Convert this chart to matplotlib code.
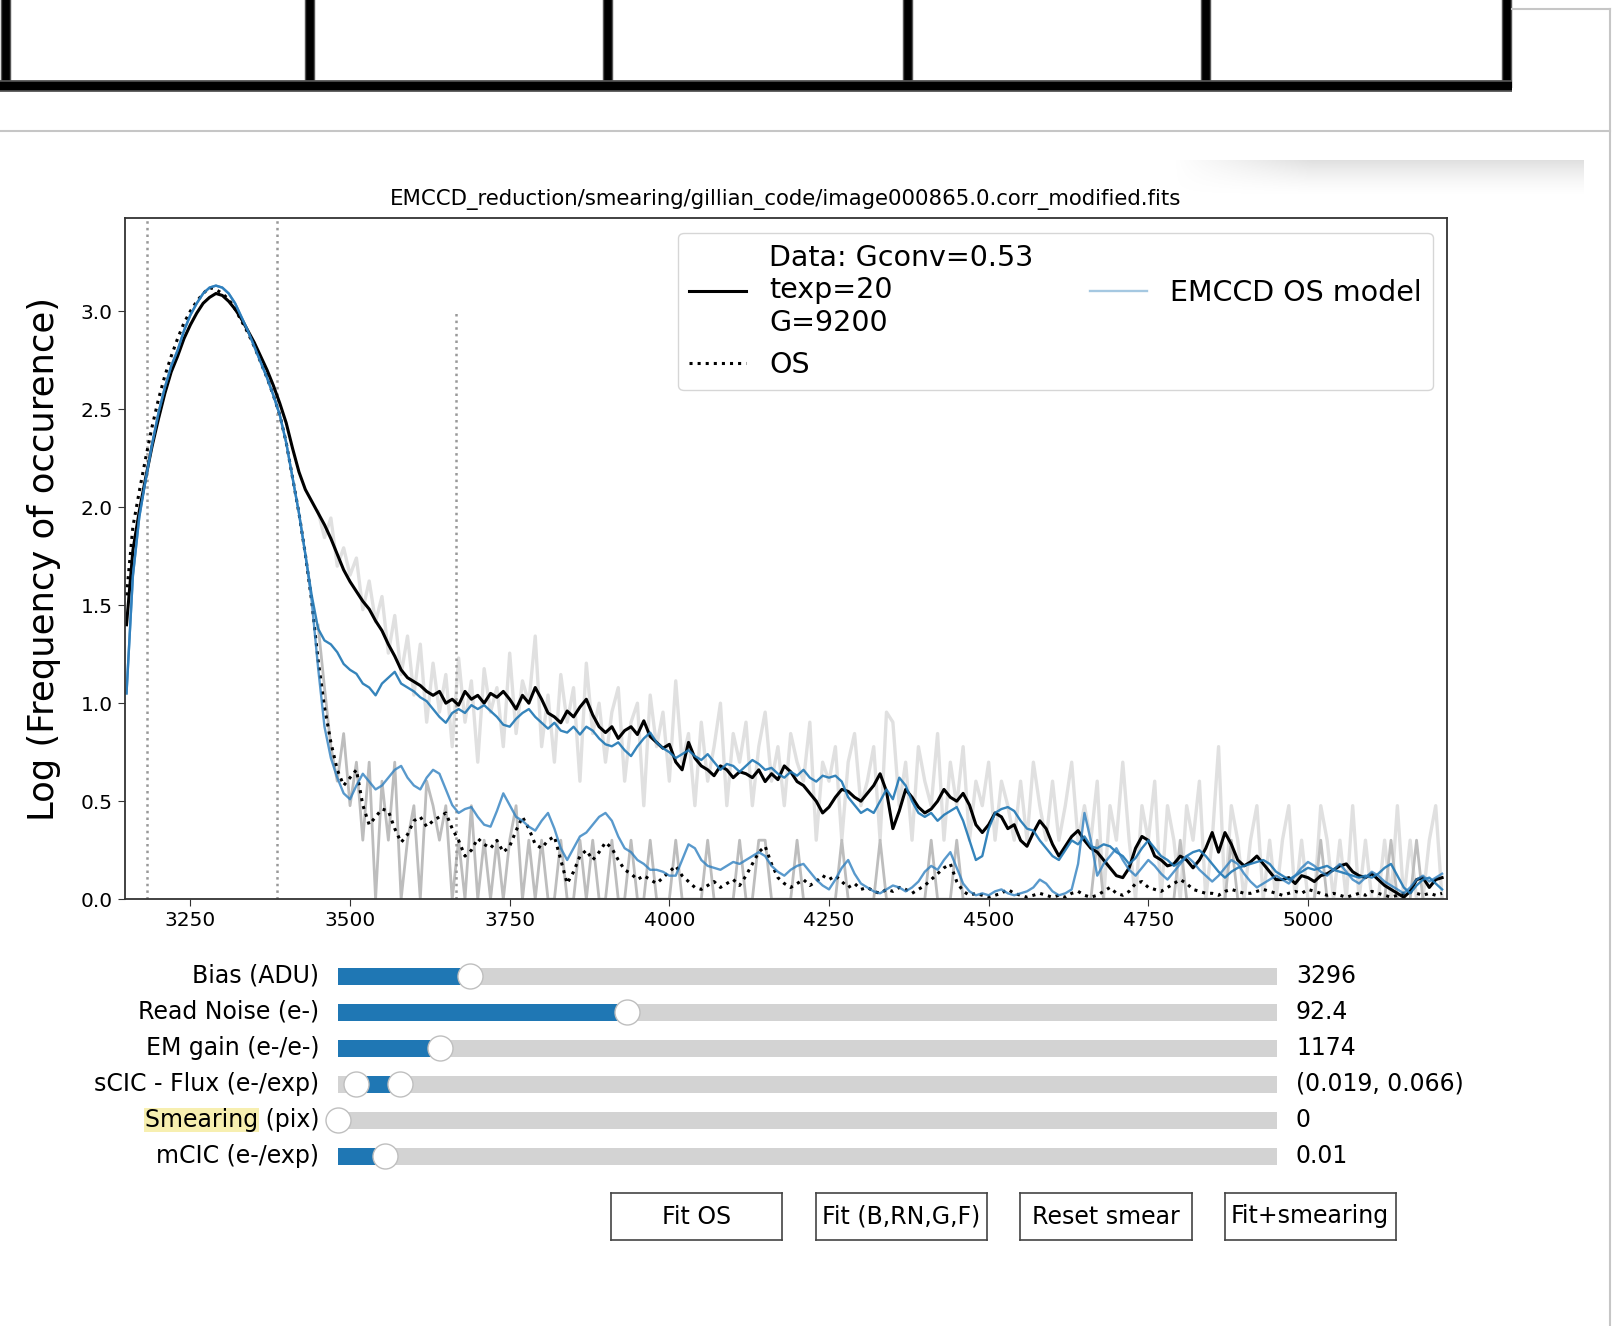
import numpy as np
import matplotlib
matplotlib.use('Agg')
import matplotlib.pyplot as plt
from matplotlib.widgets import Slider, RangeSlider, Button
from matplotlib.lines import Line2D
from matplotlib.patches import Rectangle

W, H = 1615, 1326

# smoothed curves, one value every 10 ADU starting at 3150 ADU
x0_smooth = 3150
step = 10

data_smooth = [
    1.40, 1.78, 1.98, 2.15, 2.31, 2.45, 2.58, 2.69, 2.77, 2.86,
    2.93, 2.99, 3.04, 3.07, 3.09, 3.08, 3.05, 3.01, 2.96, 2.90,
    2.84, 2.77, 2.70, 2.62, 2.53, 2.43, 2.30, 2.18, 2.09, 2.03,
    1.97, 1.91, 1.84, 1.76, 1.68, 1.62, 1.57, 1.52, 1.48, 1.42,
    1.37, 1.30, 1.24, 1.17, 1.13, 1.11, 1.09, 1.06, 1.04, 1.06,
    1.00, 1.02, 0.99, 1.06, 1.02, 1.04, 1.00, 1.05, 1.03, 1.06,
    1.02, 0.97, 1.04, 1.00, 1.08, 1.02, 0.95, 0.93, 0.90, 0.96,
    0.93, 0.98, 1.02, 0.94, 0.88, 0.85, 0.88, 0.82, 0.86, 0.88,
    0.84, 0.91, 0.83, 0.80, 0.77, 0.79, 0.70, 0.66, 0.80, 0.72,
    0.68, 0.66, 0.63, 0.68, 0.66, 0.62, 0.65, 0.64, 0.62, 0.66,
    0.60, 0.64, 0.61, 0.68, 0.65, 0.60, 0.58, 0.54, 0.50, 0.44,
    0.47, 0.52, 0.56, 0.55, 0.52, 0.50, 0.54, 0.58, 0.64, 0.55,
    0.36, 0.45, 0.56, 0.52, 0.47, 0.44, 0.46, 0.50, 0.56, 0.52,
    0.50, 0.54, 0.48, 0.38, 0.34, 0.38, 0.44, 0.42, 0.36, 0.38,
    0.30, 0.27, 0.34, 0.40, 0.36, 0.28, 0.22, 0.27, 0.32, 0.35,
    0.30, 0.26, 0.24, 0.20, 0.16, 0.12, 0.11, 0.16, 0.26, 0.32,
    0.30, 0.22, 0.20, 0.17, 0.18, 0.22, 0.20, 0.16, 0.20, 0.26,
    0.34, 0.24, 0.34, 0.28, 0.20, 0.17, 0.19, 0.22, 0.18, 0.14,
    0.10, 0.10, 0.11, 0.08, 0.12, 0.11, 0.09, 0.12, 0.13, 0.15,
    0.17, 0.18, 0.14, 0.12, 0.11, 0.13, 0.10, 0.07, 0.05, 0.03,
    0.01, 0.04, 0.10, 0.11, 0.06, 0.10, 0.11,
]

os_smooth = [
    1.55, 1.90, 2.08, 2.25, 2.41, 2.55, 2.67, 2.77, 2.86, 2.94,
    3.00, 3.05, 3.09, 3.12, 3.11, 3.09, 3.06, 3.01, 2.95, 2.89,
    2.82, 2.74, 2.66, 2.57, 2.47, 2.33, 2.15, 1.97, 1.76, 1.52,
    1.22, 0.98, 0.80, 0.66, 0.58, 0.62, 0.66, 0.48, 0.38, 0.42,
    0.46, 0.45, 0.36, 0.29, 0.33, 0.40, 0.42, 0.37, 0.40, 0.42,
    0.44, 0.36, 0.30, 0.22, 0.25, 0.31, 0.28, 0.26, 0.30, 0.24,
    0.27, 0.35, 0.42, 0.36, 0.28, 0.26, 0.30, 0.32, 0.20, 0.08,
    0.14, 0.22, 0.25, 0.20, 0.24, 0.29, 0.26, 0.20, 0.15, 0.13,
    0.10, 0.12, 0.10, 0.08, 0.11, 0.14, 0.17, 0.12, 0.09, 0.06,
    0.05, 0.07, 0.09, 0.06, 0.08, 0.10, 0.07, 0.12, 0.18, 0.24,
    0.27, 0.18, 0.11, 0.08, 0.06, 0.08, 0.10, 0.07, 0.09, 0.12,
    0.10, 0.12, 0.09, 0.06, 0.08, 0.05, 0.06, 0.04, 0.03, 0.05,
    0.04, 0.06, 0.05, 0.03, 0.05, 0.07, 0.10, 0.13, 0.16, 0.18,
    0.09, 0.04, 0.02, 0.03, 0.02, 0.01, 0.02, 0.03, 0.05, 0.03,
    0.02, 0.01, 0.02, 0.03, 0.02, 0.01, 0.02, 0.01, 0.03, 0.04,
    0.02, 0.01, 0.02, 0.04, 0.06, 0.03, 0.02, 0.04, 0.08, 0.09,
    0.06, 0.05, 0.04, 0.06, 0.08, 0.10, 0.08, 0.05, 0.04, 0.03,
    0.03, 0.02, 0.04, 0.05, 0.04, 0.03, 0.03, 0.04, 0.05, 0.04,
    0.03, 0.02, 0.03, 0.04, 0.03, 0.05, 0.04, 0.03, 0.02, 0.03,
    0.02, 0.01, 0.02, 0.03, 0.02, 0.04, 0.03, 0.02, 0.01, 0.02,
    0.03, 0.04, 0.03, 0.02, 0.03, 0.02, 0.03,
]

model_data = [
    1.05, 1.65, 1.95, 2.14, 2.32, 2.48, 2.61, 2.72, 2.80, 2.90,
    2.98, 3.04, 3.09, 3.12, 3.13, 3.12, 3.09, 3.04, 2.97, 2.90,
    2.82, 2.74, 2.66, 2.57, 2.47, 2.33, 2.15, 1.97, 1.76, 1.55,
    1.38, 1.32, 1.30, 1.26, 1.20, 1.17, 1.15, 1.10, 1.08, 1.04,
    1.10, 1.13, 1.16, 1.10, 1.08, 1.06, 1.03, 1.01, 0.97, 0.93,
    0.90, 0.95, 0.97, 0.95, 0.99, 0.97, 0.99, 0.96, 0.93, 0.89,
    0.88, 0.92, 0.95, 0.97, 0.93, 0.90, 0.87, 0.90, 0.86, 0.85,
    0.88, 0.84, 0.88, 0.86, 0.82, 0.79, 0.78, 0.80, 0.76, 0.73,
    0.78, 0.82, 0.85, 0.80, 0.77, 0.75, 0.72, 0.74, 0.76, 0.73,
    0.71, 0.74, 0.70, 0.66, 0.69, 0.68, 0.65, 0.68, 0.71, 0.69,
    0.66, 0.67, 0.64, 0.62, 0.65, 0.63, 0.66, 0.62, 0.60, 0.63,
    0.62, 0.63, 0.60, 0.52, 0.48, 0.44, 0.46, 0.44, 0.50, 0.56,
    0.51, 0.62, 0.58, 0.50, 0.44, 0.42, 0.44, 0.40, 0.43, 0.45,
    0.47, 0.40, 0.30, 0.20, 0.22, 0.36, 0.44, 0.46, 0.47, 0.45,
    0.40, 0.36, 0.35, 0.30, 0.26, 0.22, 0.20, 0.25, 0.30, 0.28,
    0.32, 0.27, 0.26, 0.28, 0.27, 0.24, 0.22, 0.18, 0.21, 0.26,
    0.30, 0.26, 0.22, 0.20, 0.17, 0.19, 0.22, 0.24, 0.25, 0.22,
    0.18, 0.14, 0.11, 0.14, 0.16, 0.17, 0.18, 0.19, 0.20, 0.18,
    0.14, 0.12, 0.10, 0.12, 0.14, 0.16, 0.15, 0.16, 0.17, 0.15,
    0.14, 0.13, 0.12, 0.11, 0.12, 0.11, 0.13, 0.16, 0.18, 0.12,
    0.06, 0.03, 0.07, 0.10, 0.11, 0.08, 0.05,
]

model_os = [
    1.05, 1.65, 1.95, 2.14, 2.32, 2.48, 2.61, 2.72, 2.80, 2.90,
    2.98, 3.04, 3.09, 3.12, 3.13, 3.12, 3.09, 3.04, 2.97, 2.90,
    2.82, 2.74, 2.66, 2.57, 2.47, 2.33, 2.15, 1.97, 1.76, 1.52,
    1.18, 0.88, 0.72, 0.62, 0.54, 0.51, 0.58, 0.64, 0.60, 0.56,
    0.58, 0.62, 0.66, 0.68, 0.62, 0.58, 0.56, 0.62, 0.66, 0.64,
    0.56, 0.48, 0.44, 0.46, 0.47, 0.42, 0.38, 0.37, 0.45, 0.54,
    0.48, 0.42, 0.40, 0.37, 0.35, 0.40, 0.44, 0.36, 0.26, 0.20,
    0.26, 0.32, 0.34, 0.38, 0.42, 0.44, 0.40, 0.32, 0.26, 0.24,
    0.20, 0.18, 0.15, 0.15, 0.14, 0.12, 0.12, 0.20, 0.28, 0.26,
    0.20, 0.17, 0.16, 0.15, 0.17, 0.19, 0.18, 0.20, 0.22, 0.24,
    0.22, 0.17, 0.14, 0.12, 0.15, 0.17, 0.18, 0.14, 0.10, 0.07,
    0.05, 0.10, 0.16, 0.20, 0.13, 0.08, 0.06, 0.04, 0.03, 0.05,
    0.07, 0.06, 0.04, 0.06, 0.09, 0.14, 0.17, 0.15, 0.20, 0.24,
    0.16, 0.08, 0.04, 0.02, 0.03, 0.02, 0.04, 0.05, 0.03, 0.02,
    0.03, 0.04, 0.06, 0.10, 0.08, 0.04, 0.02, 0.03, 0.05, 0.18,
    0.44, 0.30, 0.12, 0.18, 0.22, 0.26, 0.20, 0.15, 0.12, 0.16,
    0.20, 0.17, 0.13, 0.10, 0.14, 0.18, 0.22, 0.19, 0.15, 0.12,
    0.09, 0.12, 0.16, 0.20, 0.18, 0.13, 0.09, 0.06, 0.08, 0.10,
    0.12, 0.10, 0.08, 0.12, 0.16, 0.19, 0.17, 0.14, 0.12, 0.15,
    0.18, 0.14, 0.10, 0.08, 0.11, 0.14, 0.12, 0.09, 0.07, 0.05,
    0.03, 0.06, 0.10, 0.12, 0.09, 0.11, 0.13,
]

# raw histograms (counts per 10 ADU bin) starting at 3450 ADU
x0_hist = 3450
data_counts = [
    95, 70, 88, 50, 62, 45, 55, 30, 42, 26,
    35, 18, 28, 14, 22, 11, 20, 8, 16, 9,
    14, 6, 17, 8, 13, 5, 15, 9, 12, 6,
    18, 7, 13, 10, 22, 6, 11, 5, 14, 8,
    12, 4, 16, 7, 10, 5, 9, 12, 4, 8,
    10, 3, 11, 6, 9, 4, 13, 5, 7, 3,
    8, 4, 6, 10, 3, 7, 5, 8, 3, 6,
    9, 4, 6, 3, 7, 5, 4, 8, 2, 5,
    4, 6, 2, 5, 7, 3, 4, 6, 2, 9,
    8, 3, 5, 2, 6, 4, 3, 7, 2, 5,
    3, 6, 2, 4, 3, 5, 2, 4, 3, 2,
    4, 2, 5, 3, 2, 4, 2, 3, 5, 2,
    3, 2, 4, 1, 3, 2, 5, 2, 1, 3,
    2, 4, 1, 3, 2, 1, 3, 2, 4, 1,
    2, 6, 1, 3, 2, 1, 2, 3, 1, 2,
    1, 2, 3, 1, 2, 1, 1, 3, 2, 1,
    2, 1, 3, 1, 2, 1, 1, 2, 1, 3,
    1, 2, 1, 1, 2, 3, 1,
]
os_counts = [
    25, 12, 6, 4, 7, 3, 5, 2, 5, 1,
    4, 2, 5, 1, 2, 3, 1, 4, 3, 2,
    3, 1, 2, 1, 3, 1, 2, 1, 2, 1,
    2, 3, 1, 2, 1, 2, 1, 1, 2, 1,
    1, 2, 1, 2, 1, 1, 2, 1, 1, 2,
    1, 1, 2, 1, 1, 1, 2, 1, 1, 1,
    1, 2, 1, 1, 1, 1, 2, 1, 1, 2,
    2, 1, 1, 1, 1, 2, 1, 1, 1, 1,
    1, 1, 2, 1, 1, 1, 1, 1, 2, 1,
    1, 1, 1, 1, 1, 1, 2, 1, 1, 1,
    2, 1, 1, 1, 1, 1, 1, 1, 1, 1,
    1, 1, 1, 1, 1, 1, 1, 1, 1, 1,
    1, 1, 2, 1, 1, 1, 1, 1, 1, 1,
    1, 1, 1, 1, 1, 2, 1, 1, 1, 1,
    1, 1, 1, 2, 1, 1, 1, 1, 1, 1,
    1, 1, 1, 1, 1, 1, 1, 2, 1, 1,
    1, 1, 1, 1, 1, 1, 1, 1, 2, 1,
    1, 1, 2, 1, 1, 1, 1,
]

vline_full = [3182, 3386]
vline_short = 3666
vline_short_top = 3.0

title = 'EMCCD_reduction/smearing/gillian_code/image000865.0.corr_modified.fits'
data_label = 'Data: Gconv=0.53\ntexp=20\nG=9200'

slider_labels = ['Bias (ADU)', 'Read Noise (e-)', 'EM gain (e-/e-)',
                 'sCIC - Flux (e-/exp)', 'Smearing (pix)', 'mCIC (e-/exp)']
slider_values = [3296, 92.4, 1174, (0.019, 0.066), 0, 0.01]
slider_ranges = [(3147, 4205), (0, 300), (0, 10800), (0, 1), (0, 3), (0, 0.2)]
slider_fmts = ['%d', '%.1f', '%d', '%.3f', '%d', '%.2f']
button_labels = ['Fit OS', 'Fit (B,RN,G,F)', 'Reset smear', 'Fit+smearing']


def fig_box(x0, y0, x1, y1):
    # pixel box (top-left origin) -> figure fraction rect
    return [x0 / W, 1 - y1 / H, (x1 - x0) / W, (y1 - y0) / H]


plt.rcParams['font.size'] = 17
fig = plt.figure(figsize=(W / 100, H / 100), dpi=100)

# page decorations behind the figure content
deco = fig.add_axes([0, 0, 1, 1], zorder=-1)
deco.set_xlim(0, W)
deco.set_ylim(H, 0)
deco.axis('off')
for xv in [6, 310, 608, 908, 1206, 1507]:
    deco.plot([xv, xv], [-5, 88], color='#555555', lw=7.5, solid_capstyle='butt')
    deco.plot([xv, xv], [-5, 88], color='black', lw=5.5, solid_capstyle='butt')
deco.plot([0, 1512], [85.5, 85.5], color='#555555', lw=8.5, solid_capstyle='butt')
deco.plot([0, 1512], [85.5, 85.5], color='black', lw=6, solid_capstyle='butt')
grey = '#c6c6c6'
deco.plot([0, 1610], [130.5, 130.5], color=grey, lw=1.5)
deco.plot([1512, 1610], [8.5, 8.5], color=grey, lw=1.5)
deco.plot([1610, 1610], [8.5, H + 5], color=grey, lw=1.5)
vert = np.linspace(1, 0, 40)[:, None] ** 1.5
horiz = np.clip(np.linspace(0, 3, 200), 0, 1)[None, :]
shadow = np.zeros((40, 200, 4))
shadow[..., :3] = 0.78
shadow[..., 3] = 0.55 * vert * horiz
deco.imshow(shadow, extent=[1174, 1584, 196, 160], aspect='auto',
            interpolation='bilinear')

# main plot
ax = fig.add_axes(fig_box(124.6, 218.4, 1447.2, 899.2))
xs = x0_smooth + step * np.arange(len(data_smooth))
xh = x0_hist + step * np.arange(len(data_counts))
ax.plot(xh, np.log10(data_counts), color='#e0e0e0', lw=2.4)
ax.plot(xh, np.log10(os_counts), color='#bdbdbd', lw=2.0)
for xv in vline_full:
    ax.axvline(xv, color='#999999', lw=1.8, ls=':')
ax.vlines(vline_short, 0, vline_short_top, color='#999999', lw=1.8, ls=':')
l_data, = ax.plot(xs, data_smooth, color='black', lw=2.2)
l_os, = ax.plot(xs, os_smooth, color='black', lw=2.2, ls=':')
ax.plot(xs, model_data, color='#1f77b4', lw=1.7, alpha=0.9)
ax.plot(xs, model_os, color='#2f80c0', lw=1.7, alpha=0.8)
ax.set_xlim(3147, 5218)
ax.set_ylim(0, 3.473)
ax.set_xticks([3250, 3500, 3750, 4000, 4250, 4500, 4750, 5000])
ax.set_yticks([0, 0.5, 1, 1.5, 2, 2.5, 3])
ax.yaxis.set_major_formatter(matplotlib.ticker.FormatStrFormatter('%.1f'))
ax.tick_params(labelsize=14.5, length=5, color='#333333')
for s in ax.spines.values():
    s.set_edgecolor('#333333')
    s.set_linewidth(1.3)
ax.set_ylabel('Log (Frequency of occurence)', fontsize=25.5, labelpad=14)
ax.set_title(title, fontsize=15.3, pad=10)
model_handle = Line2D([], [], color='#1f77b4', lw=1.7, alpha=0.4)
ax.legend([l_data, l_os, model_handle], [data_label, 'OS', 'EMCCD OS model'],
          loc='upper right', ncol=2, fontsize=20.5)

# sliders
row_y = [976, 1012, 1048, 1084, 1120, 1156]
sliders = []
hstyle = {'facecolor': 'white', 'edgecolor': '0.75', 'size': 18}
for lab, val, rng, fmt, yc in zip(slider_labels, slider_values, slider_ranges,
                                  slider_fmts, row_y):
    sax = fig.add_axes(fig_box(337.8, yc - 17, 1277.2, yc + 17))
    if isinstance(val, tuple):
        sl = RangeSlider(sax, lab, rng[0], rng[1], valinit=val, valfmt=fmt,
                         handle_style=hstyle)
    else:
        sl = Slider(sax, lab, rng[0], rng[1], valinit=val, valfmt=fmt,
                    initcolor='none', handle_style=hstyle)
    sl.label.set_fontsize(17)
    sl.valtext.set_fontsize(17)
    sliders.append(sl)

# buttons
button_x = [(610.8, 781.8), (815.8, 986.7), (1019.7, 1191.7), (1224.7, 1395.6)]
buttons = []
for lab, (bx0, bx1) in zip(button_labels, button_x):
    bax = fig.add_axes(fig_box(bx0, 1193, bx1, 1240))
    b = Button(bax, lab, color='white', hovercolor='0.95')
    b.label.set_fontsize(17)
    for s in bax.spines.values():
        s.set_edgecolor('#444444')
        s.set_linewidth(1.2)
    buttons.append(b)

# yellow find-highlight behind the word "Smearing"
fig.canvas.draw()
renderer = fig.canvas.get_renderer()
lab_bb = sliders[4].label.get_window_extent(renderer)
tmp = fig.text(0, 0, 'Smearing', fontsize=17)
w_word = tmp.get_window_extent(renderer).width
tmp.remove()
deco.add_patch(Rectangle((lab_bb.x0 - 1, H - lab_bb.y1), w_word + 2,
                         lab_bb.height, facecolor='#f7efb0', edgecolor='none'))

fig.savefig('out.png', dpi=100)
